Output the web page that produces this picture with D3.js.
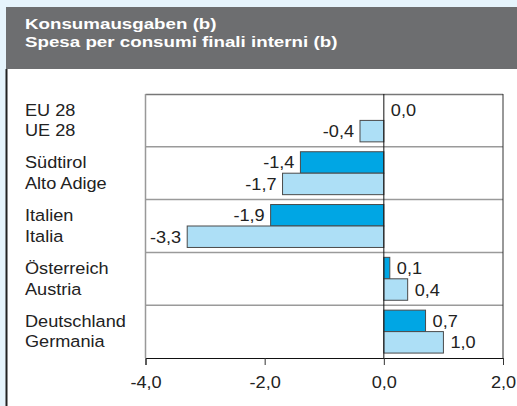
<!DOCTYPE html>
<html>
<head>
<meta charset="utf-8">
<script src="https://cdn.jsdelivr.net/npm/d3@7"></script>
<style>
    html, body { margin: 0; padding: 0; background: #e6f4fc; }
    svg { display: block; }
</style>
</head>
<body>
<div id="chart"></div>
<script>
// data
const labelsDe = ["EU 28", "Südtirol", "Italien", "Österreich", "Deutschland"];
const labelsIt = ["UE 28", "Alto Adige", "Italia", "Austria", "Germania"];
const seriesA = [0.0, -1.4, -1.9, 0.1, 0.7];   // dark bars
const seriesB = [-0.4, -1.7, -3.3, 0.4, 1.0];  // light bars
const tickValues = [-4, -2, 0, 2];
const titleLines = ["Konsumausgaben (b)", "Spesa per consumi finali interni (b)"];

const width = 517;
const height = 406;
const marginTop = 94;
const marginBottom = 48;
const marginLeft = 145.5;
const marginRight = 14;

const darkColor = "#00a6e4";
const lightColor = "#addff6";
const font = "'Liberation Sans', Arial, sans-serif";
const stretch = 1.1; // the reference type is a bit wider than Arial

const svg = d3.select("#chart")
    .append("svg")
    .attr("width", width)
    .attr("height", height);

// background and panel
svg.append("rect")
    .attr("width", width).attr("height", height)
    .attr("fill", "#e6f4fc");

svg.append("rect")
    .attr("x", 6).attr("y", 69)
    .attr("width", width - 6).attr("height", height - 69)
    .attr("fill", "white");

svg.append("rect")
    .attr("x", 6).attr("y", 7)
    .attr("width", width - 6).attr("height", 62)
    .attr("fill", "#6d6e70");

svg.append("line")
    .attr("x1", 6.5).attr("x2", 6.5)
    .attr("y1", 69).attr("y2", height)
    .attr("stroke", "#222").attr("stroke-width", 2);

// header title
svg.append("g")
    .selectAll("text")
    .data(titleLines)
    .enter()
    .append("text")
    .attr("transform", (d, i) => `translate(25,${29 + i * 17.5}) scale(1.25,1)`)
    .style("font-family", font)
    .style("font-size", "15px")
    .style("font-weight", "bold")
    .style("fill", "white")
    .text((d) => d);

const rows = labelsDe.map((d, i) => ({
    key: d,
    it: labelsIt[i],
    a: seriesA[i],
    b: seriesB[i],
}));

// scales
const x = d3.scaleLinear()
    .domain([-4, 2])
    .range([marginLeft, width - marginRight]);

const y = d3.scaleBand()
    .domain(labelsDe)
    .range([marginTop, height - marginBottom]);

const ySub = d3.scaleBand()
    .domain(["a", "b"])
    .range([0, y.bandwidth()])
    .paddingOuter(0.23);

const fmt = (v) => d3.format(".1f")(v).replace(".", ",").replace("−", "-");

// frame: grey top/left, separators between groups
const plotRight = x.range()[1];
const plotBottom = y.range()[1];

svg.append("g")
    .selectAll("line")
    .data(labelsDe.slice(1))
    .enter()
    .append("line")
    .attr("x1", marginLeft)
    .attr("x2", plotRight)
    .attr("y1", (d) => y(d))
    .attr("y2", (d) => y(d))
    .attr("stroke", "#9a9a9a")
    .attr("stroke-width", 1.5);

svg.append("line")
    .attr("x1", marginLeft).attr("x2", plotRight)
    .attr("y1", marginTop + 0.5).attr("y2", marginTop + 0.5)
    .attr("stroke", "#777").attr("stroke-width", 1.5);

svg.append("line")
    .attr("x1", marginLeft).attr("x2", marginLeft)
    .attr("y1", marginTop).attr("y2", plotBottom)
    .attr("stroke", "#999").attr("stroke-width", 1.5);

svg.append("line")
    .attr("x1", plotRight).attr("x2", plotRight)
    .attr("y1", marginTop).attr("y2", plotBottom)
    .attr("stroke", "#333").attr("stroke-width", 1);

// bars
const group = svg.append("g")
    .selectAll("g")
    .data(rows)
    .enter()
    .append("g")
    .attr("transform", (d) => `translate(0,${y(d.key)})`);

[["a", darkColor], ["b", lightColor]].forEach(([k, color]) => {
    group.append("rect")
        .attr("x", (d) => x(Math.min(0, d[k])))
        .attr("y", ySub(k))
        .attr("width", (d) => Math.abs(x(d[k]) - x(0)))
        .attr("height", ySub.bandwidth())
        .attr("fill", color)
        .attr("stroke", "#4a4a4a")
        .attr("stroke-width", 1);

    // value labels
    group.append("text")
        .attr("transform", (d) => {
            const tx = d[k] < 0 ? x(d[k]) - 6 : x(d[k]) + 7;
            const ty = ySub(k) + ySub.bandwidth() / 2 + 6;
            return `translate(${tx},${ty}) scale(${stretch},1)`;
        })
        .attr("text-anchor", (d) => d[k] < 0 ? "end" : "start")
        .style("font-family", font)
        .style("font-size", "16.5px")
        .style("fill", "#222")
        .text((d) => fmt(d[k]));
});

// category labels (two languages)
group.append("text")
    .attr("transform", `translate(25,${ySub("a") + ySub.bandwidth() / 2 + 6}) scale(${stretch},1)`)
    .style("font-family", font)
    .style("font-size", "16.5px")
    .style("fill", "#222")
    .text((d) => d.key);

group.append("text")
    .attr("transform", `translate(25,${ySub("b") + ySub.bandwidth() / 2 + 5}) scale(${stretch},1)`)
    .style("font-family", font)
    .style("font-size", "16.5px")
    .style("fill", "#222")
    .text((d) => d.it);

// zero line
svg.append("line")
    .attr("x1", x(0)).attr("x2", x(0))
    .attr("y1", marginTop).attr("y2", plotBottom)
    .attr("stroke", "#111").attr("stroke-width", 1);

// x-axis
const xAxis = svg.append("g")
    .attr("transform", `translate(0,${plotBottom})`)
    .call(d3.axisBottom(x).tickValues(tickValues).tickSize(7).tickPadding(11).tickFormat(fmt));

xAxis.select(".domain").attr("stroke", "#111");
xAxis.selectAll(".tick line").attr("stroke", "#333");
xAxis.selectAll("text")
    .attr("transform", `scale(${stretch},1)`)
    .style("font-family", font)
    .style("font-size", "16.5px")
    .style("fill", "#222");
</script>
</body>
</html>
